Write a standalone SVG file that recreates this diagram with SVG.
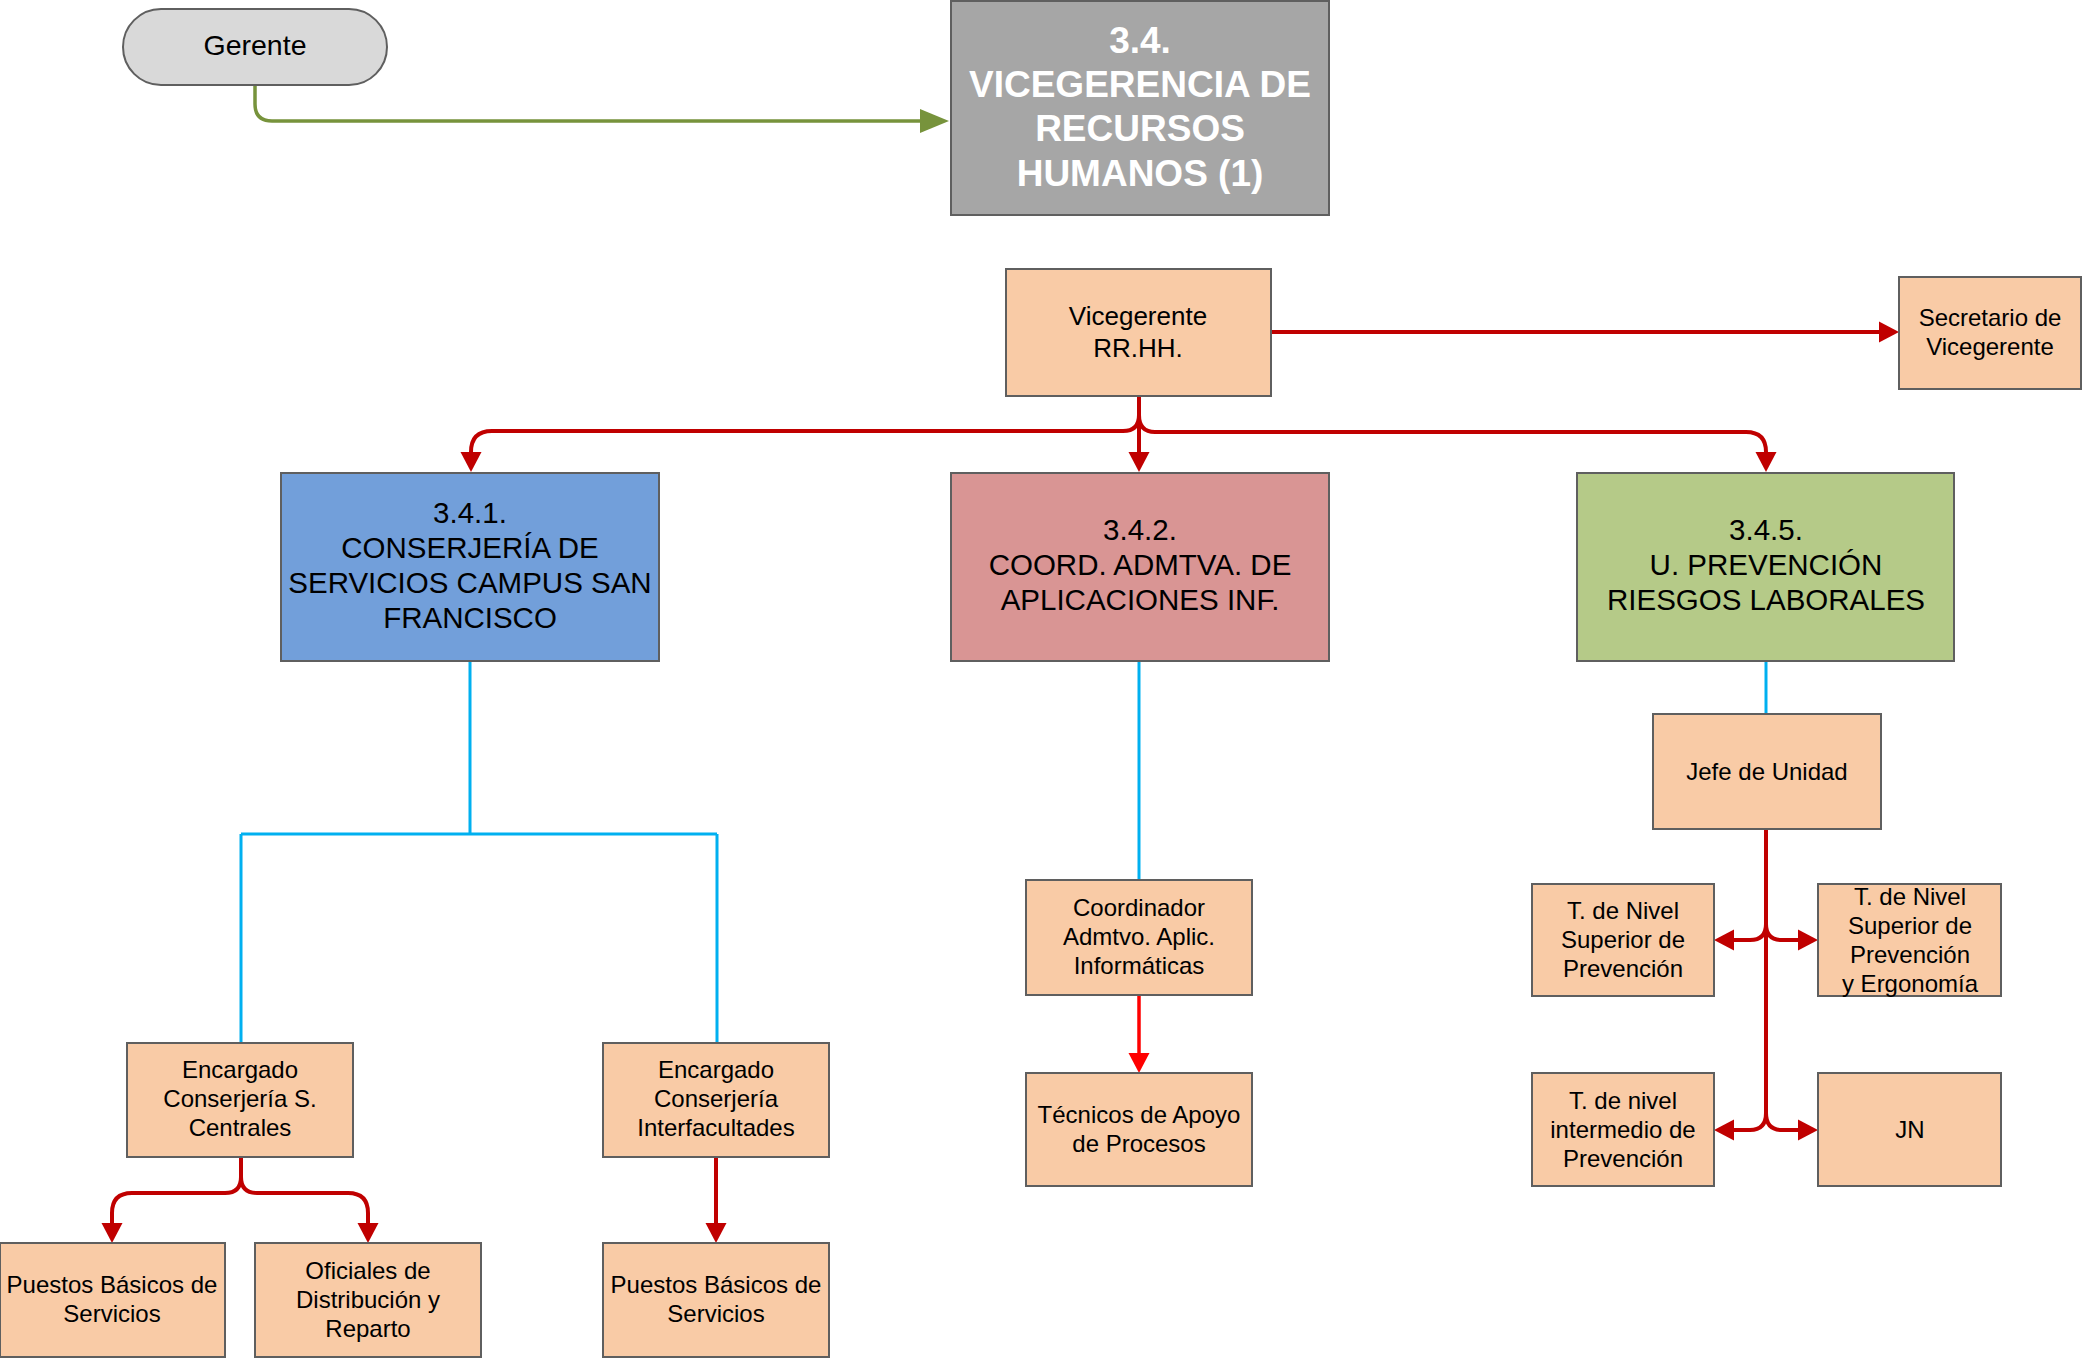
<svg xmlns="http://www.w3.org/2000/svg" width="2082" height="1359" viewBox="0 0 2082 1359">
<style>
text{font-family:"Liberation Sans",Arial,sans-serif;text-anchor:middle;fill:#000}
.t24{font-size:24px}
.t26{font-size:26px}
.t29{font-size:29.5px}
.title{font-size:37px;font-weight:bold;fill:#fff}
.box{stroke:#5f5f5f;stroke-width:2}
.peach{fill:#F9CBA6}
.red{fill:none;stroke:#C00000;stroke-width:4}
.bred{fill:none;stroke:#FF0000;stroke-width:3.5}
.blue{fill:none;stroke:#00B0F0;stroke-width:3}
.green{fill:none;stroke:#77933C;stroke-width:3.5}
</style>
<defs>
<marker id="arR" markerUnits="userSpaceOnUse" markerWidth="21" markerHeight="22" viewBox="0 -11 21 22" refX="0" refY="0" orient="auto" overflow="visible"><path d="M0,-10.5 L20,0 L0,10.5 z" fill="#C00000"/></marker>
<marker id="arB" markerUnits="userSpaceOnUse" markerWidth="21" markerHeight="22" viewBox="0 -11 21 22" refX="0" refY="0" orient="auto" overflow="visible"><path d="M0,-10.5 L20,0 L0,10.5 z" fill="#FF0000"/></marker>
<marker id="arG" markerUnits="userSpaceOnUse" markerWidth="30" markerHeight="26" viewBox="0 -13 30 26" refX="0" refY="0" orient="auto" overflow="visible"><path d="M0,-12 L29,0 L0,12 z" fill="#77933C"/></marker>
</defs>
<rect width="2082" height="1359" fill="#fff"/>

<g id="connectors">
<path class="green" d="M255,85 V104 Q255,121 272,121 H920" marker-end="url(#arG)"/>
<path class="red" d="M1271,332 H1879" marker-end="url(#arR)"/>
<path class="red" d="M1139,396 V452" marker-end="url(#arR)"/>
<path class="red" d="M1139,415 Q1139,431 1123,431 H492 Q471,431 471,452" marker-end="url(#arR)"/>
<path class="red" d="M1139,415 Q1139,432 1155,432 H1746 Q1766,432 1766,452" marker-end="url(#arR)"/>
<path class="blue" d="M470,661 V834 M241,834 H717 M241,834 V1042 M717,834 V1042"/>
<path class="blue" d="M1139,661 V880"/>
<path class="blue" d="M1766,661 V714"/>
<path class="bred" d="M1139,995 V1053" marker-end="url(#arB)"/>
<path class="red" d="M1766,829 V1114"/>
<path class="red" d="M1766,924 Q1766,940 1750,940 H1734" marker-end="url(#arR)"/>
<path class="red" d="M1766,924 Q1766,940 1782,940 H1798" marker-end="url(#arR)"/>
<path class="red" d="M1766,1113 Q1766,1130 1750,1130 H1734" marker-end="url(#arR)"/>
<path class="red" d="M1766,1113 Q1766,1130 1782,1130 H1798" marker-end="url(#arR)"/>
<path class="red" d="M241,1157 V1177"/>
<path class="red" d="M241,1177 Q241,1193 225,1193 H132 Q112,1193 112,1213 V1223" marker-end="url(#arR)"/>
<path class="red" d="M241,1177 Q241,1193 257,1193 H348 Q368,1193 368,1213 V1223" marker-end="url(#arR)"/>
<path class="red" d="M716,1157 V1223" marker-end="url(#arR)"/>
</g>

<g id="gerente">
<rect class="box" x="123" y="9" width="264" height="76" rx="38" ry="38" fill="#D9D9D9" stroke-width="1.5"/>
<text x="255" y="55" style="font-size:28.5px">Gerente</text>
</g>

<g id="vicegerencia">
<rect class="box" x="951" y="1" width="378" height="214" fill="#A6A6A6"/>
<text class="title" x="1140" y="53">3.4.</text>
<text class="title" x="1140" y="97">VICEGERENCIA DE</text>
<text class="title" x="1140" y="141">RECURSOS</text>
<text class="title" x="1140" y="186">HUMANOS (1)</text>
</g>

<g id="vicegerente">
<rect class="box peach" x="1006" y="269" width="265" height="127"/>
<text class="t26" x="1138" y="325">Vicegerente</text>
<text class="t26" x="1138" y="357">RR.HH.</text>
</g>

<g id="secretario">
<rect class="box peach" x="1899" y="277" width="182" height="112"/>
<text class="t24" x="1990" y="326">Secretario de</text>
<text class="t24" x="1990" y="355">Vicegerente</text>
</g>

<g id="conserjeria">
<rect class="box" x="281" y="473" width="378" height="188" fill="#729FDA"/>
<text class="t29" x="470" y="523">3.4.1.</text>
<text class="t29" x="470" y="558">CONSERJERÍA DE</text>
<text class="t29" x="470" y="593">SERVICIOS CAMPUS SAN</text>
<text class="t29" x="470" y="628">FRANCISCO</text>
</g>

<g id="coord-admtva">
<rect class="box" x="951" y="473" width="378" height="188" fill="#D99594"/>
<text class="t29" x="1140" y="540">3.4.2.</text>
<text class="t29" x="1140" y="575">COORD. ADMTVA. DE</text>
<text class="t29" x="1140" y="610">APLICACIONES INF.</text>
</g>

<g id="prevencion">
<rect class="box" x="1577" y="473" width="377" height="188" fill="#B5CA88"/>
<text class="t29" x="1766" y="540">3.4.5.</text>
<text class="t29" x="1766" y="575">U. PREVENCIÓN</text>
<text class="t29" x="1766" y="610">RIESGOS LABORALES</text>
</g>

<g id="encargado-sc">
<rect class="box peach" x="127" y="1043" width="226" height="114"/>
<text class="t24" x="240" y="1078">Encargado</text>
<text class="t24" x="240" y="1107">Conserjería S.</text>
<text class="t24" x="240" y="1136">Centrales</text>
</g>

<g id="encargado-inter">
<rect class="box peach" x="603" y="1043" width="226" height="114"/>
<text class="t24" x="716" y="1078">Encargado</text>
<text class="t24" x="716" y="1107">Conserjería</text>
<text class="t24" x="716" y="1136">Interfacultades</text>
</g>

<g id="puestos-1">
<rect class="box peach" x="0" y="1243" width="225" height="114"/>
<text class="t24" x="112" y="1293">Puestos Básicos de</text>
<text class="t24" x="112" y="1322">Servicios</text>
</g>

<g id="oficiales">
<rect class="box peach" x="255" y="1243" width="226" height="114"/>
<text class="t24" x="368" y="1279">Oficiales de</text>
<text class="t24" x="368" y="1308">Distribución y</text>
<text class="t24" x="368" y="1337">Reparto</text>
</g>

<g id="puestos-2">
<rect class="box peach" x="603" y="1243" width="226" height="114"/>
<text class="t24" x="716" y="1293">Puestos Básicos de</text>
<text class="t24" x="716" y="1322">Servicios</text>
</g>

<g id="coordinador">
<rect class="box peach" x="1026" y="880" width="226" height="115"/>
<text class="t24" x="1139" y="916">Coordinador</text>
<text class="t24" x="1139" y="945">Admtvo. Aplic.</text>
<text class="t24" x="1139" y="974">Informáticas</text>
</g>

<g id="tecnicos">
<rect class="box peach" x="1026" y="1073" width="226" height="113"/>
<text class="t24" x="1139" y="1123">Técnicos de Apoyo</text>
<text class="t24" x="1139" y="1152">de Procesos</text>
</g>

<g id="jefe">
<rect class="box peach" x="1653" y="714" width="228" height="115"/>
<text class="t24" x="1767" y="780">Jefe de Unidad</text>
</g>

<g id="t-superior">
<rect class="box peach" x="1532" y="884" width="182" height="112"/>
<text class="t24" x="1623" y="919">T. de Nivel</text>
<text class="t24" x="1623" y="948">Superior de</text>
<text class="t24" x="1623" y="977">Prevención</text>
</g>

<g id="t-superior-ergonomia">
<rect class="box peach" x="1818" y="884" width="183" height="112"/>
<text class="t24" x="1910" y="905">T. de Nivel</text>
<text class="t24" x="1910" y="934">Superior de</text>
<text class="t24" x="1910" y="963">Prevención</text>
<text class="t24" x="1910" y="992">y Ergonomía</text>
</g>

<g id="t-intermedio">
<rect class="box peach" x="1532" y="1073" width="182" height="113"/>
<text class="t24" x="1623" y="1109">T. de nivel</text>
<text class="t24" x="1623" y="1138">intermedio de</text>
<text class="t24" x="1623" y="1167">Prevención</text>
</g>

<g id="jn">
<rect class="box peach" x="1818" y="1073" width="183" height="113"/>
<text class="t24" x="1910" y="1138">JN</text>
</g>
</svg>
